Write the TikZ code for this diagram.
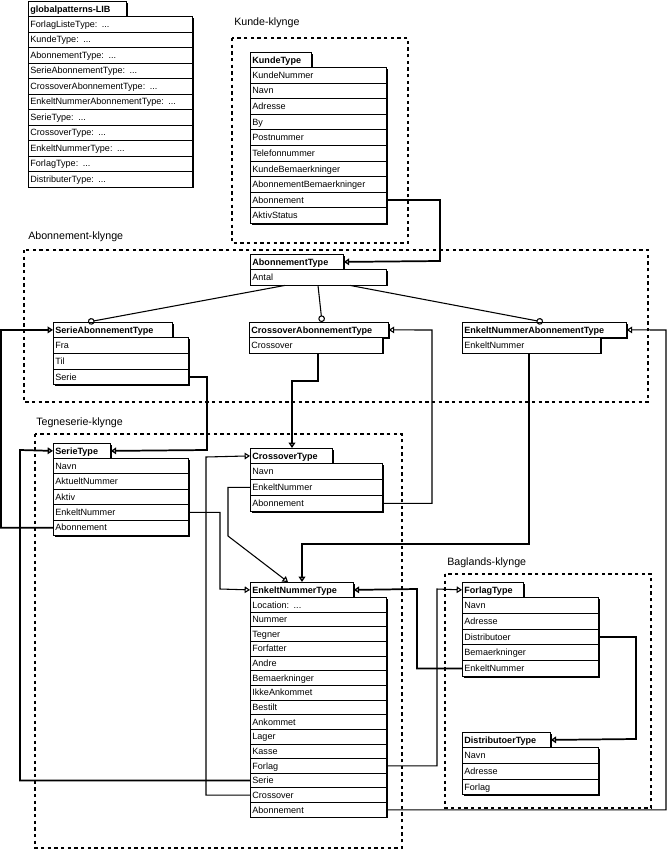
\documentclass[tikz,border=0pt]{standalone}
\usepackage{fontspec}
\setmainfont{Liberation Sans}
\usetikzlibrary{arrows.meta,shadows,calc}

\tikzset{
  box/.style={draw, fill=white, line width=0.6pt, inner sep=1.5pt, anchor=north west,
    align=left, text depth=0pt, font=\fontsize{6.8}{7}\selectfont,
    drop shadow={shadow xshift=0.9pt, shadow yshift=-0.9pt, opacity=1, fill=black}},
  hdr/.style={box, font=\fontsize{6.8}{7}\selectfont\bfseries, minimum height=11.25pt, text width={#1*0.75pt-3pt}},
  row/.style={box, text width={#1*0.75pt-3pt}},
  klynge/.style={line width=0.8pt, dash pattern=on 2.5pt off 2.5pt},
  klyngenavn/.style={anchor=south west, font=\fontsize{8}{9}\selectfont, inner sep=0pt},
  arv/.style={line width=0.8pt, -{Triangle[open, length=4pt, width=5pt]}},
  tyk/.style={arv, line width=1.3pt},
  gen/.style={line width=0.8pt, -{Circle[open, length=5pt]}}
}

\newcommand{\prik}{...}
% name, x, y, header width, row width, row height, header, rows
\newcommand{\klasse}[8]{%
  \node[hdr=#4, minimum height=11.25pt] (#1) at (#2,#3) {#7};
  \foreach \r [count=\i] in {#8}
    \node[row=#5, minimum height={#6*0.75pt}, anchor=north west] (#1-\i) at (#2,{#3+15+(\i-1)*#6}) {\r};
}

\begin{document}
\begin{tikzpicture}[x=0.75pt, y=-0.75pt]
  \useasboundingbox (0,0) rectangle (668,851);

  % klynger
  \draw[klynge] (232,38) rectangle (408,243);
  \node[klyngenavn] (kk) at (234,28) {Kunde-klynge};
  \draw[klynge] (24,250) rectangle (648,402);
  \node[klyngenavn] (ak) at (28,242) {Abonnement-klynge};
  \draw[klynge] (35,434) rectangle (402,848);
  \node[klyngenavn] (tk) at (36,428) {Tegneserie-klynge};
  \draw[klynge] (445,574) rectangle (651,808);
  \node[klyngenavn] (bk) at (447,568) {Baglands-klynge};

  \klasse{lib}{28}{1}{98}{164}{15.5}{globalpatterns-LIB}{ForlagListeType: \prik, KundeType: \prik, AbonnementType: \prik, SerieAbonnementType: \prik, CrossoverAbonnementType: \prik, EnkeltNummerAbonnementType: \prik, SerieType: \prik, CrossoverType: \prik, EnkeltNummerType: \prik, ForlagType: \prik, DistributerType: \prik}
  \klasse{kunde}{250}{52}{61}{136}{15.6}{KundeType}{KundeNummer, Navn, Adresse, By, Postnummer, Telefonnummer, KundeBemaerkninger, AbonnementBemaerkninger, Abonnement, AktivStatus}
  \klasse{abo}{250}{254}{93}{136}{15.6}{AbonnementType}{Antal}
  \klasse{sabo}{53}{322}{119}{135}{15.8}{SerieAbonnementType}{Fra, Til, Serie}
  \klasse{cabo}{249}{322}{139}{133}{15.8}{CrossoverAbonnementType}{Crossover}
  \klasse{eabo}{462}{322}{164}{138}{15.8}{EnkeltNummerAbonnementType}{EnkeltNummer}
  \klasse{serie}{53}{443}{57}{135}{15.4}{SerieType}{Navn, AktueltNummer, Aktiv, EnkeltNummer, Abonnement}
  \klasse{cross}{250}{448}{82}{132}{16}{CrossoverType}{Navn, EnkeltNummer, Abonnement}
  \klasse{enkelt}{250}{582}{103}{136}{14.65}{EnkeltNummerType}{Location: \prik, Nummer, Tegner, Forfatter, Andre, Bemaerkninger, IkkeAnkommet, Bestilt, Ankommet, Lager, Kasse, Forlag, Serie, Crossover, Abonnement}
  \klasse{forlag}{462}{582}{61}{136}{15.8}{ForlagType}{Navn, Adresse, Distributoer, Bemaerkninger, EnkeltNummer}
  \klasse{dist}{462}{732}{88}{136}{15.8}{DistributoerType}{Navn, Adresse, Forlag}

  % generaliseringer
  \draw[gen] ($(abo-1.south west)+(35,0)$) -- ($(sabo.north west)+(35,0)$);
  \draw[gen] ($(abo-1.south west)+(68,0)$) -- ($(cabo.north west)+(73,0)$);
  \draw[gen] ($(abo-1.south west)+(100,0)$) -- ($(eabo.north west)+(81,0)$);

  % referencer
  \draw[tyk] (kunde-9.east) -| (440,261) -- (abo.east);
  \draw[tyk] (sabo-3.east) -| (207,450) -- (serie.east);
  \draw[tyk] ($(cabo-1.south west)+(69,0)$) |- (292,381) -- (cross.north -| 292,0);
  \draw[arv] (cross-3.east) -| (432,330) -- (cabo.east);
  \draw[tyk] ($(eabo-1.south west)+(67,0)$) |- (302,544) -- (enkelt.north -| 302,0);
  \draw[arv] (enkelt-15.east) -| (666,330) -- (eabo.east);
  \draw[tyk] (serie-5.west) -| (1,330) -- (sabo.west);
  \draw[arv] (serie-4.east) -| (220,589) -- (enkelt.west);
  \draw[arv] (cross-2.west) -| (228,536) -- ($(enkelt.north west)+(38,0)$);
  \draw[tyk] (enkelt-13.west) -| (20,450) -- (serie.west);
  \draw[arv] (enkelt-14.west) -| (206,457) -- (cross.west);
  \draw[arv] (enkelt-12.east) -| (437,589) -- (forlag.west);
  \draw[tyk] (forlag-5.west) -| (417,589) -- (enkelt.east);
  \draw[tyk] (forlag-3.east) -| (636,739) -- (dist.east);
\end{tikzpicture}
\end{document}
